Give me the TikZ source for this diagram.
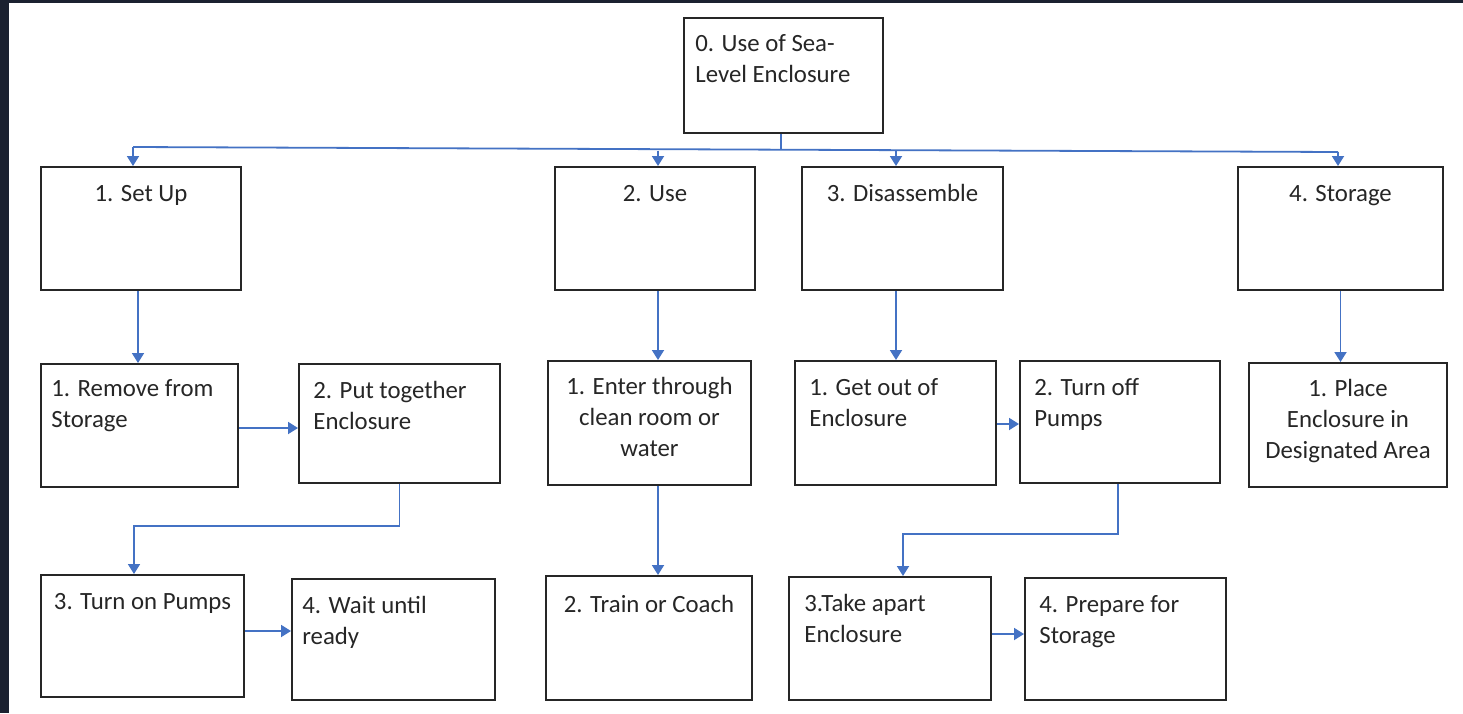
\documentclass[tikz,border=0pt]{standalone}
\usepackage{fontspec}
\setmainfont{Carlito}
\usetikzlibrary{arrows.meta}
\definecolor{frame}{HTML}{1B2130}
\definecolor{conn}{HTML}{4472C4}
\definecolor{ink}{HTML}{262626}
\newcommand\mkbox[5]{\node[box,minimum width={(#4-#2)*0.5pt},minimum height={(#5-#3)*0.5pt}] (#1) at ({(#2+#4)/2},{(#3+#5)/2}) {};}
\tikzset{
  box/.style={draw=black!85,line width=1pt,fill=white,inner sep=0pt},
  txt/.style={text=ink,font=\fontsize{12.4}{15.3}\selectfont,inner sep=0pt},
  ctxt/.style={txt,align=center,anchor=north},
  ltxt/.style={txt,align=left,anchor=north west},
  arr/.style={draw=conn,line width=0.9pt,-{Triangle[length=5pt,width=6pt]}},
  ln/.style={draw=conn,line width=0.9pt}
}
\begin{document}
\begin{tikzpicture}[x=0.5pt,y=-0.5pt]
\fill[frame] (0,0) rectangle (1463,713);
\fill[white] (9,3) rectangle (1463,713);
\useasboundingbox (0,0) rectangle (1463,713);
% boxes
\mkbox{b0}{684}{18}{883}{133}
\mkbox{b1}{41}{167}{241}{290}
\mkbox{b2}{555}{167}{755}{290}
\mkbox{b3}{802}{167}{1003}{290}
\mkbox{b4}{1238}{167}{1443}{290}
\mkbox{c11}{41}{364}{238}{487}
\mkbox{c12}{299}{364}{500}{483}
\mkbox{c21}{548}{361}{751}{485}
\mkbox{c31}{795}{361}{996}{485}
\mkbox{c32}{1020}{361}{1220}{483}
\mkbox{c41}{1249}{363}{1447}{487}
\mkbox{d13}{41}{575}{244}{697}
\mkbox{d14}{292}{579}{495}{700}
\mkbox{d22}{546}{576}{752}{700}
\mkbox{d33}{789}{577}{991}{700}
\mkbox{d34}{1025}{578}{1226}{700}
% texts
\node[ltxt] (tb0) at ([xshift=6pt,yshift=-6.5pt]b0.north west) {\strut 0. Use of Sea-\\Level Enclosure};
\node[ctxt] (tb1) at ([yshift=-7pt]b1.north) {\strut 1. Set Up};
\node[ctxt] (tb2) at ([yshift=-7pt]b2.north) {\strut 2. Use};
\node[ctxt] (tb3) at ([yshift=-7pt]b3.north) {\strut 3. Disassemble};
\node[ctxt] (tb4) at ([yshift=-7pt]b4.north) {\strut 4. Storage};
\node[ltxt] (tc11) at ([xshift=5.5pt,yshift=-6pt]c11.north west) {\strut 1. Remove from\\Storage};
\node[ltxt] (tc12) at ([xshift=7.5pt,yshift=-7pt]c12.north west) {\strut 2. Put together\\Enclosure};
\node[ctxt] (tc21) at ([yshift=-6.5pt]c21.north) {\strut 1. Enter through\\clean room or\\water};
\node[ltxt] (tc31) at ([xshift=7.5pt,yshift=-7pt]c31.north west) {\strut 1. Get out of\\Enclosure};
\node[ltxt] (tc32) at ([xshift=7.5pt,yshift=-7pt]c32.north west) {\strut 2. Turn off\\Pumps};
\node[ctxt] (tc41) at ([yshift=-6.5pt]c41.north) {\strut 1. Place\\Enclosure in\\Designated Area};
\node[ctxt] (td13) at ([yshift=-7pt]d13.north) {\strut 3. Turn on Pumps};
\node[ltxt] (td14) at ([xshift=5.5pt,yshift=-7pt]d14.north west) {\strut 4. Wait until\\ready};
\node[ctxt] (td22) at ([yshift=-8pt]d22.north) {\strut 2. Train or Coach};
\node[ltxt] (td33) at ([xshift=8pt,yshift=-7pt]d33.north west) {\strut 3.Take apart\\Enclosure};
\node[ltxt] (td34) at ([xshift=7.5pt,yshift=-7pt]d34.north west) {\strut 4. Prepare for\\Storage};
% bus from root
\coordinate (bus) at (781,149);
\coordinate (busL) at (133,147);
\coordinate (busR) at (1338,152);
\draw[ln] ([xshift=-1.25pt]b0.south) -- (bus);
\draw[ln] (busL) -- (busR);
\draw[arr] (busL) -- (busL |- b1.north);
\draw[arr] (658,150.5) -- ([xshift=1.5pt]b2.north);
\draw[arr] (896,151) -- ([xshift=-3.25pt]b3.north);
\draw[arr] (busR) -- (busR |- b4.north);
% level 2
\draw[arr] ([xshift=-1.5pt]b1.south) -- ([xshift=-1.5pt]b1.south |- c11.north);
\draw[arr] ([xshift=1.5pt]b2.south) -- ([xshift=1.5pt]b2.south |- c21.north);
\draw[arr] ([xshift=-3.25pt]b3.south) -- ([xshift=-3.25pt]b3.south |- c31.north);
\draw[arr] (b4.south) -- (b4.south |- c41.north);
\draw[arr] ([yshift=-1.25pt]c11.east) -- ([yshift=-1.25pt]c11.east -| c12.west);
\draw[arr] ([yshift=-0.5pt]c31.east) -- ([yshift=-0.5pt]c31.east -| c32.west);
% level 3
\coordinate (k1) at (134,526);
\draw[arr] (c12.south) |- (k1) -- (k1 |- d13.north);
\draw[arr] ([xshift=4.25pt]c21.south) -- ([xshift=4.25pt]c21.south |- d22.north);
\coordinate (k2) at (903,534);
\draw[arr] ([xshift=-1pt]c32.south) |- (k2) -- (k2 |- d33.north);
\draw[arr] ([yshift=2.5pt]d13.east) -- ([yshift=2.5pt]d13.east -| d14.west);
\draw[arr] ([yshift=2.25pt]d33.east) -- ([yshift=2.25pt]d33.east -| d34.west);
\end{tikzpicture}
\end{document}
